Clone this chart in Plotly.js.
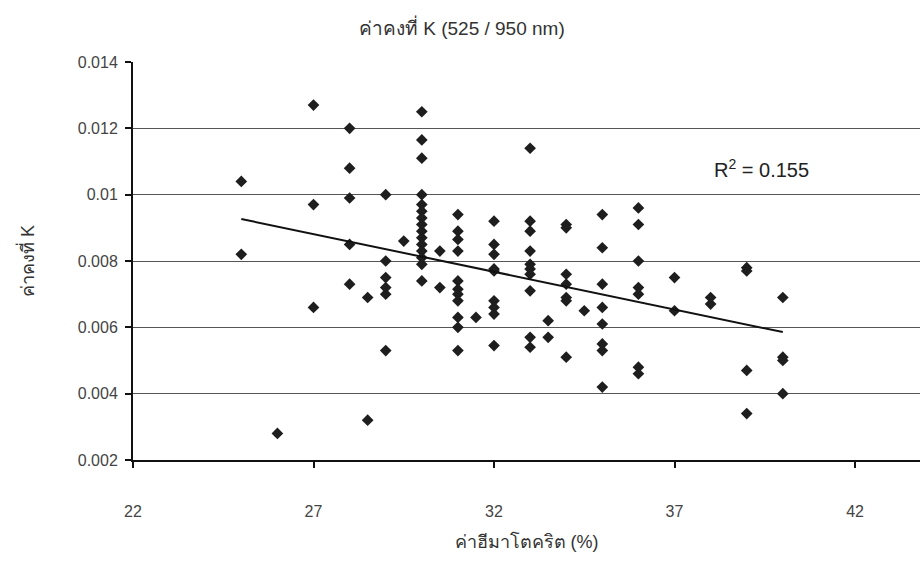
<!DOCTYPE html>
<html>
<head>
<meta charset="utf-8">
<script src="https://cdn.plot.ly/plotly-3.0.1.min.js"></script>
<style>html,body{margin:0;padding:0;background:#fff;}#chart{width:920px;height:564px;}</style>
</head>
<body>
<div id="chart"></div>
<script>
// Hematocrit (%) values
const hematocrit = [
  25, 25,
  26,
  27, 27, 27,
  28, 28, 28, 28, 28,
  28.5, 28.5,
  29, 29, 29, 29, 29, 29,
  29.5,
  30, 30, 30, 30, 30, 30, 30, 30, 30, 30, 30, 30, 30, 30, 30,
  30.5, 30.5,
  31, 31, 31, 31, 31, 31, 31, 31, 31, 31, 31,
  31.5,
  32, 32, 32, 32, 32, 32, 32, 32, 32,
  33, 33, 33, 33, 33, 33, 33, 33, 33, 33,
  33.5, 33.5,
  34, 34, 34, 34, 34, 34, 34,
  34.5,
  35, 35, 35, 35, 35, 35, 35, 35,
  36, 36, 36, 36, 36, 36, 36,
  37, 37,
  38, 38,
  39, 39, 39, 39,
  40, 40, 40, 40
];
// K constant values
const kValue = [
  0.0104, 0.0082,
  0.0028,
  0.0127, 0.0097, 0.0066,
  0.0120, 0.0108, 0.0099, 0.0085, 0.0073,
  0.0069, 0.0032,
  0.0100, 0.0080, 0.0075, 0.0072, 0.0070, 0.0053,
  0.0086,
  0.0125, 0.01165, 0.0111, 0.0100, 0.0097, 0.0095, 0.0093, 0.0091, 0.0089, 0.0087, 0.0085, 0.0083, 0.0081, 0.0079, 0.0074,
  0.0083, 0.0072,
  0.0094, 0.0089, 0.00865, 0.0083, 0.0074, 0.00715, 0.0070, 0.0068, 0.0063, 0.0060, 0.0053,
  0.0063,
  0.0092, 0.0085, 0.0082, 0.00776, 0.0077, 0.0068, 0.0066, 0.0064, 0.00545,
  0.0114, 0.0092, 0.0089, 0.0083, 0.0079, 0.00776, 0.0076, 0.0071, 0.0057, 0.0054,
  0.0062, 0.0057,
  0.0091, 0.0090, 0.0076, 0.0073, 0.0069, 0.0068, 0.0051,
  0.0065,
  0.0094, 0.0084, 0.0073, 0.0066, 0.0061, 0.0055, 0.0053, 0.0042,
  0.0096, 0.0091, 0.0080, 0.0072, 0.0070, 0.0048, 0.0046,
  0.0075, 0.0065,
  0.0069, 0.0067,
  0.0078, 0.0077, 0.0047, 0.0034,
  0.0069, 0.0051, 0.0050, 0.0040
];
const xTickVals = [22, 27, 32, 37, 42];
const xTickText = ["22", "27", "32", "37", "42"];
const yTickVals = [0.002, 0.004, 0.006, 0.008, 0.01, 0.012, 0.014];
const yTickText = ["0.002", "0.004", "0.006", "0.008", "0.01", "0.012", "0.014"];
const rSquaredText = "R<sup>2</sup> = 0.155";
const chartTitle = "ค่าคงที่ K (525 / 950 nm)";
const xTitle = "ค่าฮีมาโตคริต (%)";
const yTitle = "ค่าคงที่ K";

// least-squares linear fit computed from the data
const n = hematocrit.length;
let sx = 0, sy = 0, sxx = 0, sxy = 0;
for (let i = 0; i < n; i++) { sx += hematocrit[i]; sy += kValue[i]; sxx += hematocrit[i]*hematocrit[i]; sxy += hematocrit[i]*kValue[i]; }
const slope = (n*sxy - sx*sy) / (n*sxx - sx*sx);
const intercept = (sy - slope*sx) / n;
const xMin = Math.min(...hematocrit), xMax = Math.max(...hematocrit);
const fitX = [xMin, xMax];
const fitY = fitX.map(v => intercept + slope*v);

const font = "'Liberation Sans', Arial, 'Noto Sans', sans-serif";

const traces = [
  {x: hematocrit, y: kValue, type: 'scatter', mode: 'markers',
   marker: {symbol: 'diamond', size: 9, color: '#1e1e1e'}, hoverinfo: 'skip'},
  {x: fitX, y: fitY, type: 'scatter', mode: 'lines',
   line: {color: '#111', width: 2}, hoverinfo: 'skip'}
];

const layout = {
  width: 920, height: 564,
  margin: {l: 133, r: 0, t: 62, b: 104},
  paper_bgcolor: '#fff', plot_bgcolor: '#fff',
  showlegend: false,
  font: {family: font, color: '#333', size: 16},
  title: {text: chartTitle, x: 0.502, xref: 'container', xanchor: 'center', y: 0.962, yref: 'container',
          font: {family: font, size: 19, color: '#333'}},
  xaxis: {
    range: [22, 43.8], tickvals: xTickVals, ticktext: xTickText,
    showgrid: false, zeroline: false,
    showline: true, linecolor: '#111', linewidth: 2,
    ticks: 'outside', ticklen: 6, tickwidth: 2, tickcolor: '#111',
    ticklabelstandoff: 30,
    tickfont: {family: font, size: 16, color: '#444'},
    title: {text: xTitle, standoff: 16, font: {family: font, size: 18, color: '#333'}}
  },
  yaxis: {
    range: [0.002, 0.014], tickvals: yTickVals, ticktext: yTickText,
    showgrid: true, gridcolor: '#555', gridwidth: 1, zeroline: false,
    showline: true, linecolor: '#111', linewidth: 2,
    ticks: 'outside', ticklen: 6, tickwidth: 2, tickcolor: '#111',
    ticklabelstandoff: 4,
    tickfont: {family: font, size: 16, color: '#444'},
    title: {text: yTitle, standoff: 38, font: {family: font, size: 18, color: '#333'}}
  },
  annotations: [{
    x: 39.4, y: 0.0108, xref: 'x', yref: 'y', text: rSquaredText, showarrow: false,
    font: {family: font, size: 20, color: '#222'}
  }]
};

Plotly.newPlot('chart', traces, layout, {displayModeBar: false, staticPlot: true});
</script>
</body>
</html>
